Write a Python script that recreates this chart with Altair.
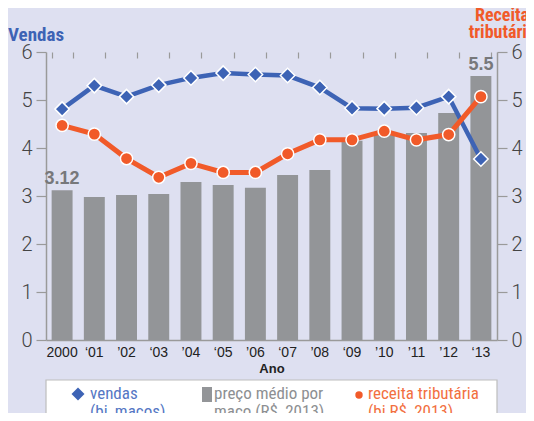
import altair as alt
import pandas as pd

anos = ["2000", "‘01", "’02", "‘03", "’04", "‘05", "’06", "‘07", "’08", "‘09", "’10", "’11", "’12", "‘13"]
vendas = [4.81, 5.30, 5.07, 5.31, 5.46, 5.56, 5.53, 5.51, 5.26, 4.83, 4.82, 4.84, 5.07, 3.77]
preco = [3.12, 2.98, 3.02, 3.04, 3.29, 3.23, 3.17, 3.44, 3.54, 4.15, 4.27, 4.31, 4.73, 5.50]
receita = [4.47, 4.29, 3.78, 3.39, 3.68, 3.49, 3.49, 3.88, 4.17, 4.17, 4.35, 4.17, 4.28, 5.07]
rotulos = ["3.12", "", "", "", "", "", "", "", "", "", "", "", "", "5.5"]
ticks_y = [0, 1, 2, 3, 4, 5, 6]

df = pd.DataFrame({"ano": anos, "vendas": vendas, "preco": preco,
                   "receita": receita, "rotulo": rotulos})
one = pd.DataFrame({"k": [0]})

BLUE = "#3d63b5"
ORANGE = "#f15a29"
GRAY = "#939598"
BG = "#dee0f1"
NARROW = "Liberation Sans Narrow, Roboto Condensed, Liberation Sans"
PLAIN = "Liberation Sans, Helvetica, Arial"

W, H = 451, 288

xscale = alt.Scale(paddingInner=0.35, paddingOuter=0.175)
x_main_axis = alt.Axis(title="Ano", ticks=False, tickSize=0, domain=True, domainColor="#9a9a9a",
                       domainWidth=1.5, labelAngle=0, labelFontSize=14, labelColor="#222",
                       labelFont=PLAIN, labelPadding=5, titleFont=PLAIN, titleFontSize=13,
                       titleFontWeight="bold", titleColor="#222", titlePadding=3)
x_tick_axis = alt.Axis(title=None, labels=False, domain=False, ticks=True, tickBand="extent",
                       tickSize=6, offset=-6, tickColor="#9a9a9a", tickWidth=1.2)

yscale = alt.Scale(domain=[0, 6], nice=False, zero=True)
y_left_axis = alt.Axis(title=None, values=ticks_y, grid=False, domainColor="#9a9a9a",
                       domainWidth=1.5, tickColor="#9a9a9a", tickSize=10, tickWidth=1.2,
                       labelFontSize=20, labelColor="#444", labelFont="Roboto",
                       labelFontWeight=300, labelPadding=4)
y_right_axis = alt.Axis(title=None, values=ticks_y, grid=False, orient="right",
                        domainColor="#9a9a9a", domainWidth=1.5, tickColor="#9a9a9a",
                        tickSize=10, tickWidth=1.2, labelFontSize=20, labelColor="#444",
                        labelFont="Roboto", labelFontWeight=300, labelPadding=4)

X = alt.X("ano:N", sort=anos, scale=xscale, axis=x_main_axis)
Xt = alt.X("ano:N", sort=anos, scale=xscale, axis=x_tick_axis)

base = alt.Chart(df)

bars = base.mark_bar(color=GRAY).encode(
    x=X, y=alt.Y("preco:Q", scale=yscale, axis=y_left_axis))
bar_lbl = base.mark_text(baseline="bottom", dy=-2, fontSize=18, fontWeight="bold",
                         font=PLAIN, color="#77787b").encode(
    x=X, y=alt.Y("preco:Q", scale=yscale, axis=y_left_axis), text="rotulo:N")
v_line = base.mark_line(color=BLUE, strokeWidth=4.5).encode(
    x=X, y=alt.Y("vendas:Q", scale=yscale, axis=y_left_axis))
v_pts = base.mark_point(shape="diamond", filled=True, size=210, color=BLUE, opacity=1,
                        stroke="white", strokeWidth=1.5).encode(
    x=X, y=alt.Y("vendas:Q", scale=yscale, axis=y_left_axis))

left = alt.layer(bars, bar_lbl, v_line, v_pts)

r_line = base.mark_line(color=ORANGE, strokeWidth=5).encode(
    x=Xt, y=alt.Y("receita:Q", scale=yscale, axis=y_right_axis))
r_pts = base.mark_point(shape="circle", filled=True, size=150, color=ORANGE, opacity=1,
                        stroke="white", strokeWidth=1.5).encode(
    x=Xt, y=alt.Y("receita:Q", scale=yscale, axis=y_right_axis))
right = alt.layer(r_line, r_pts)

oc = alt.Chart(one)
t_vendas = oc.mark_text(text="Vendas", align="left", baseline="alphabetic", font=NARROW,
                        fontSize=19, fontWeight="bold", color=BLUE).encode(
    x=alt.value(-38), y=alt.value(-11))
t_receita = oc.mark_text(text=["Receita", "tributária"], align="center", baseline="alphabetic",
                         lineHeight=17, font=NARROW, fontSize=18, fontWeight="bold",
                         color=ORANGE).encode(x=alt.value(456), y=alt.value(-31))

leg_box = oc.mark_rect(fill="white", stroke="#bdbdbd", strokeWidth=1.2).encode(
    x=alt.value(0), x2=alt.value(W), y=alt.value(328), y2=alt.value(380))
leg_d = oc.mark_point(shape="diamond", filled=True, size=170, color=BLUE, opacity=1).encode(
    x=alt.value(32), y=alt.value(342))
leg_dt = oc.mark_text(text=["vendas", "(bi, maços)"], align="left", baseline="middle",
                      lineHeight=18, font=NARROW, fontSize=17, color="#5577c4").encode(
    x=alt.value(44), y=alt.value(342))
leg_s = oc.mark_rect(color=GRAY).encode(
    x=alt.value(156), x2=alt.value(166), y=alt.value(335), y2=alt.value(350))
leg_st = oc.mark_text(text=["preço médio por", "maço (R$, 2013)"], align="left",
                      baseline="middle", lineHeight=18, font=NARROW, fontSize=17,
                      color="#8d8f92").encode(x=alt.value(168), y=alt.value(342))
leg_c = oc.mark_point(shape="circle", filled=True, size=55, color=ORANGE, opacity=1).encode(
    x=alt.value(313), y=alt.value(343))
leg_ct = oc.mark_text(text=["receita tributária", "(bi R$, 2013)"], align="left",
                      baseline="middle", lineHeight=18, font=NARROW, fontSize=17,
                      color="#f2703f").encode(x=alt.value(322), y=alt.value(342))

chart = alt.layer(
    left, right, t_vendas, t_receita, leg_box, leg_d, leg_dt, leg_s, leg_st, leg_c, leg_ct
).resolve_scale(y="independent").resolve_axis(x="independent").properties(
    width=W, height=H,
    autosize=alt.AutoSizeParams(type="none"),
    padding={"left": 38, "top": 44, "right": 29, "bottom": 73},
    background=BG,
).configure_view(stroke=None)

chart.save("out.html", embed_options={"renderer": "svg", "actions": False})
